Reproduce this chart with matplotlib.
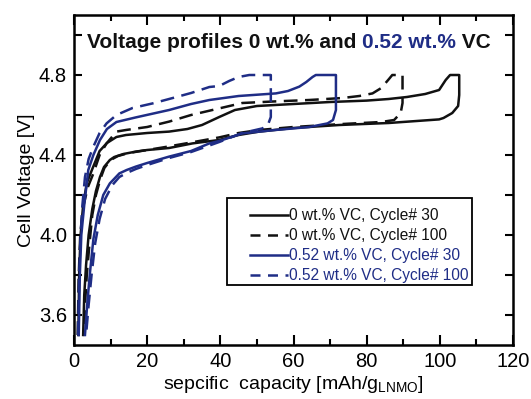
import matplotlib
matplotlib.use("Agg")
import matplotlib.pyplot as plt
from matplotlib.lines import Line2D
from matplotlib.patches import Rectangle
from matplotlib.ticker import MultipleLocator

plt.rcParams['font.family'] = ['Liberation Sans', 'DejaVu Sans']
plt.rcParams['mathtext.fontset'] = 'custom'
plt.rcParams['mathtext.rm'] = 'Liberation Sans'

BLACK = '#111111'
BLUE = '#1f2d86'

# ---- data: 0 wt.% VC, cycle 30 (charge -> CV -> discharge) ----
q_0_c30 = [1.2, 1.4, 1.8, 2.5, 3.5, 5, 7, 9, 11.6, 14.2, 20, 26, 31, 35, 39.7, 44, 50, 60, 70, 80, 86, 91, 96,
           99.8, 101.6, 102.8, 105.3,
           105.3, 105.0, 103.4, 101, 99.8, 86, 72.5, 60, 50.6, 45, 39.7, 32.4, 26, 20, 16.9, 13.5, 11, 9.8,
           8.2, 7.1, 6, 5, 4, 3.3, 2.8, 2.5]
v_0_c30 = [3.50, 3.80, 4.00, 4.15, 4.26, 4.33, 4.42, 4.46, 4.49, 4.50, 4.51, 4.517, 4.53, 4.55, 4.59, 4.625, 4.645,
           4.655, 4.665, 4.672, 4.68, 4.69, 4.705, 4.725, 4.775, 4.80, 4.80,
           4.70, 4.645, 4.61, 4.585, 4.578, 4.56, 4.55, 4.535, 4.517, 4.50, 4.475, 4.458, 4.435, 4.425, 4.417,
           4.405, 4.39, 4.375, 4.34, 4.29, 4.22, 4.13, 4.00, 3.85, 3.70, 3.50]

# ---- 0 wt.% VC, cycle 100 ----
q_0_c100 = [1.0, 1.3, 1.7, 2.5, 3.8, 5.3, 7, 8.9, 11.6, 14.2, 20, 26, 32, 39.7, 46, 55, 64.3, 73.4, 78, 81.6, 84,
            86.1, 87, 89.8,
            89.8, 89.3, 87.5, 84, 73.4, 60, 50.6, 45, 39.7, 30.6, 25, 20, 15, 12, 10, 8.3, 7.2, 6, 5, 4.2, 3.5,
            3.0, 2.8]
v_0_c100 = [3.50, 3.80, 4.00, 4.14, 4.24, 4.308, 4.40, 4.458, 4.517, 4.525, 4.54, 4.567, 4.60, 4.633, 4.66, 4.668,
            4.675, 4.685, 4.695, 4.708, 4.735, 4.78, 4.80, 4.80,
            4.66, 4.61, 4.575, 4.565, 4.555, 4.54, 4.525, 4.51, 4.488, 4.458, 4.44, 4.425, 4.41, 4.395, 4.375,
            4.335, 4.28, 4.20, 4.10, 3.95, 3.80, 3.65, 3.50]

# ---- 0.52 wt.% VC, cycle 30 ----
q_52_c30 = [1.3, 1.6, 2.0, 2.8, 3.9, 5.3, 7.1, 9, 11.6, 16.9, 26, 32, 37, 45, 55.2, 58.5, 61.6, 63.5, 65.2, 66.1,
            71.6,
            71.6, 70.8, 69.3, 64.3, 55, 46, 39.7, 37, 32, 26, 20, 16.9, 14.4, 12.4, 9.8, 8, 6.5, 5.3, 4.3, 3.6, 3.0]
v_52_c30 = [3.50, 3.80, 4.00, 4.15, 4.325, 4.40, 4.475, 4.53, 4.565, 4.588, 4.625, 4.655, 4.675, 4.695, 4.708,
            4.72, 4.742, 4.765, 4.79, 4.80, 4.80,
            4.625, 4.575, 4.558, 4.54, 4.525, 4.508, 4.47, 4.458, 4.42, 4.392, 4.36, 4.342, 4.325, 4.308, 4.258,
            4.20, 4.10, 3.98, 3.80, 3.65, 3.50]

# ---- 0.52 wt.% VC, cycle 100 ----
q_52_c100 = [1.1, 1.4, 1.8, 2.3, 3.0, 4, 5.3, 7, 8.9, 11.6, 16, 21.5, 27, 32, 37, 39.7, 42.4, 45, 47.9, 53.8,
             53.8, 53.0, 51.5, 46, 39.7, 32, 26, 20, 16.9, 14.4, 12.4, 10.5, 8.5, 7, 5.8, 4.8, 4.0, 3.3]
v_52_c100 = [3.50, 3.80, 4.00, 4.15, 4.29, 4.38, 4.442, 4.51, 4.558, 4.60, 4.635, 4.658, 4.685, 4.71, 4.74, 4.745,
             4.77, 4.79, 4.80, 4.80,
             4.59, 4.55, 4.533, 4.51, 4.465, 4.415, 4.385, 4.35, 4.33, 4.31, 4.29, 4.25, 4.18, 4.08, 3.96, 3.80,
             3.65, 3.50]

labels = ["0 wt.% VC, Cycle# 30", "0 wt.% VC, Cycle# 100",
          "0.52 wt.% VC, Cycle# 30", "0.52 wt.% VC, Cycle# 100"]
x_ticks = [0, 20, 40, 60, 80, 100, 120]
y_ticks = [3.6, 4.0, 4.4, 4.8]

W, H = 531, 399
AX_L, AX_R, AX_T, AX_B = 74, 513, 15, 345
fig = plt.figure(figsize=(W / 100, H / 100), dpi=100)
ax = fig.add_axes([AX_L / W, 1 - AX_B / H, (AX_R - AX_L) / W, (AX_B - AX_T) / H])


def axfrac(px, py):
    return (px - AX_L) / (AX_R - AX_L), (AX_B - py) / (AX_B - AX_T)


lw = 1.8
dash = (5.5, 3)
ax.plot(q_0_c30, v_0_c30, color=BLACK, lw=lw, solid_joinstyle='round')
ax.plot(q_0_c100, v_0_c100, color=BLACK, lw=lw, dashes=dash)
ax.plot(q_52_c30, v_52_c30, color=BLUE, lw=lw, solid_joinstyle='round')
ax.plot(q_52_c100, v_52_c100, color=BLUE, lw=lw, dashes=dash)

ax.set_xlim(0, 120)
ax.set_ylim(3.45, 5.1)
ax.set_xticks(x_ticks)
ax.set_yticks(y_ticks)
ax.set_yticklabels([f"{t:.1f}" for t in y_ticks])
ax.xaxis.set_minor_locator(MultipleLocator(10))
ax.yaxis.set_minor_locator(MultipleLocator(0.2))
ax.tick_params(which='both', direction='in', top=True, right=True, width=1.5, labelsize=14.5, pad=5)
ax.tick_params(axis='x', which='major', length=7)
ax.tick_params(axis='x', which='minor', length=4)
ax.tick_params(axis='y', which='both', length=6)
for s in ax.spines.values():
    s.set_linewidth(1.8)

ax.set_xlabel("sepcific  capacity [mAh/g$_{\\mathregular{LNMO}}$]", fontsize=14, labelpad=2)
ax.set_ylabel("Cell Voltage [V]", fontsize=14, labelpad=3)

# title inside axes with coloured part
tx, ty = axfrac(87, 42)
t1 = ax.text(tx, ty, "Voltage profiles 0 wt.% and ", transform=ax.transAxes, fontsize=15,
             fontweight='bold', color=BLACK, va='center', ha='left')
t2 = ax.annotate("0.52 wt.%", xy=(1, 0), xycoords=t1, fontsize=15, fontweight='bold', color=BLUE,
                 va='bottom', ha='left')
t3 = ax.annotate(" VC", xy=(1, 0), xycoords=t2, fontsize=15, fontweight='bold', color=BLACK,
                 va='bottom', ha='left')

# legend frame
fx0, fy0 = axfrac(227, 285)
fx1, fy1 = axfrac(472, 198)
ax.add_patch(Rectangle((fx0, fy0), fx1 - fx0, fy1 - fy0, transform=ax.transAxes, facecolor='white',
                       edgecolor='black', lw=1.3, zorder=4))

handles = [Line2D([], [], color=BLACK, lw=lw),
           Line2D([], [], color=BLACK, lw=lw, dashes=(4, 3)),
           Line2D([], [], color=BLUE, lw=lw),
           Line2D([], [], color=BLUE, lw=lw, dashes=(4, 3))]
lx, ly = axfrac(250, 208)
leg = ax.legend(handles, labels, loc='upper left', bbox_to_anchor=(lx, ly),
                fontsize=11.2, frameon=False, handlelength=2.45, handletextpad=0.05, labelspacing=0.33,
                borderpad=0, borderaxespad=0)
leg.set_zorder(5)
for txt, c in zip(leg.get_texts(), [BLACK, BLACK, BLUE, BLUE]):
    txt.set_color(c)

fig.savefig("out.png", dpi=100)
